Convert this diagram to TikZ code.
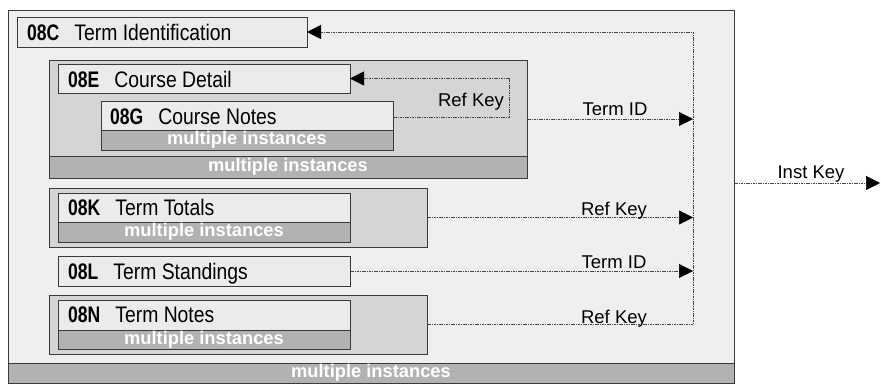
\documentclass[tikz,border=0pt]{standalone}
\usepackage{fontspec}
\setmainfont{Liberation Sans}
\newfontfamily\nr[FakeStretch=0.86]{Liberation Sans}
\newfontfamily\nb[FakeStretch=0.78]{Liberation Sans}
\usetikzlibrary{arrows.meta}
\definecolor{outerfill}{HTML}{EFEFEF}
\definecolor{groupfill}{HTML}{D5D5D5}
\definecolor{boxfill}{HTML}{EBEBEB}
\definecolor{barfill}{HTML}{B2B2B2}
\definecolor{edgecol}{HTML}{3A3A3A}
\definecolor{linkcol}{HTML}{444444}
\tikzset{
  frame/.style={draw=edgecol, line width=0.9pt, inner sep=0pt, outer sep=0pt, anchor=north west},
  outerbox/.style={frame, fill=outerfill},
  groupbox/.style={frame, fill=groupfill},
  itembox/.style={frame, fill=boxfill},
  bar/.style={draw=edgecol, line width=0.9pt, fill=barfill, inner sep=0pt, outer sep=0pt, anchor=south west,
    text=white, font=\fontsize{18.3}{18.3}\selectfont\bfseries},
  title/.style={anchor=base west, inner sep=0pt, font=\fontsize{22.5}{22.5}\selectfont},
  lbl/.style={anchor=base, inner sep=0pt, font=\fontsize{18.5}{18.5}\selectfont},
  link/.style={draw=linkcol, line width=0.75pt, dash pattern=on 1.6pt off 0.8pt},
  tip/.style={-{Triangle[length=14pt,width=14pt,fill=black,line width=0.5pt,color=black]}}
}
\newcommand{\ttl}[2]{{\nb\bfseries #1}\hspace{15pt}{\nr #2}}
\begin{document}
\begin{tikzpicture}[x=1pt,y=-1pt]
\useasboundingbox (0,0) rectangle (881,384);
% outer
\node[outerbox, minimum width=726pt, minimum height=373pt] (outer) at (8,10) {};
\node[bar, minimum width=726pt, minimum height=20pt] (outerbar) at (8,383) {multiple instances};
% 08C
\node[itembox, minimum width=290pt, minimum height=30pt] (cbox) at (17,17) {};
\node[title] (ctitle) at (27,40) {\ttl{08C}{Term Identification}};
% 08E group
\node[groupbox, minimum width=478pt, minimum height=118pt] (eg) at (49,60) {};
\node[bar, minimum width=478pt, minimum height=22pt] (egbar) at (49,178) {multiple instances};
\node[itembox, minimum width=292pt, minimum height=29pt] (ebox) at (58,64) {};
\node[title] (etitle) at (68,87) {\ttl{08E}{Course Detail}};
% 08G
\node[itembox, minimum width=292pt, minimum height=49pt] (gbox) at (101,101) {};
\node[bar, minimum width=292pt, minimum height=20pt] (gbar) at (101,150) {multiple instances};
\node[title] (gtitle) at (110,124) {\ttl{08G}{Course Notes}};
% 08K group
\node[groupbox, minimum width=378pt, minimum height=59pt] (kg) at (49,188) {};
\node[itembox, minimum width=292pt, minimum height=49pt] (kbox) at (58,193) {};
\node[bar, minimum width=292pt, minimum height=20pt] (kbar) at (58,242) {multiple instances};
\node[title] (ktitle) at (68,215) {\ttl{08K}{Term Totals}};
% 08L
\node[itembox, minimum width=292pt, minimum height=30pt] (lbox) at (58,256) {};
\node[title] (ltitle) at (68,279) {\ttl{08L}{Term Standings}};
% 08N group
\node[groupbox, minimum width=378pt, minimum height=59pt] (ng) at (49,295) {};
\node[itembox, minimum width=292pt, minimum height=49pt] (nbox) at (58,300) {};
\node[bar, minimum width=292pt, minimum height=19pt] (nbar) at (58,349) {multiple instances};
\node[title] (ntitle) at (68,322) {\ttl{08N}{Term Notes}};
% connectors
\coordinate (bus) at (693,0);
\coordinate (instend) at (880,183);
\draw[link,tip] ([yshift=8.5pt]gbox.east) -| ([xshift=159pt]ebox.east) -- (ebox.east);
\draw[link,tip] (eg.east) -- (eg.east -| bus);
\draw[link,tip] (kg.east) -- (kg.east -| bus);
\draw[link,tip] (lbox.east) -- (lbox.east -| bus);
\draw[link,tip] (ng.east) -- (ng.east -| bus) -- (cbox.east -| bus) -- (cbox.east);
\draw[link,tip] (outer.east |- instend) -- (instend);
% labels
\node[lbl] (l1) at (471,106) {Ref Key};
\node[lbl] (l2) at (615,115) {Term ID};
\node[lbl] (l3) at (614,215) {Ref Key};
\node[lbl] (l4) at (614,268) {Term ID};
\node[lbl] (l5) at (614,323) {Ref Key};
\node[lbl] (l6) at (811,178) {Inst Key};
\end{tikzpicture}
\end{document}
